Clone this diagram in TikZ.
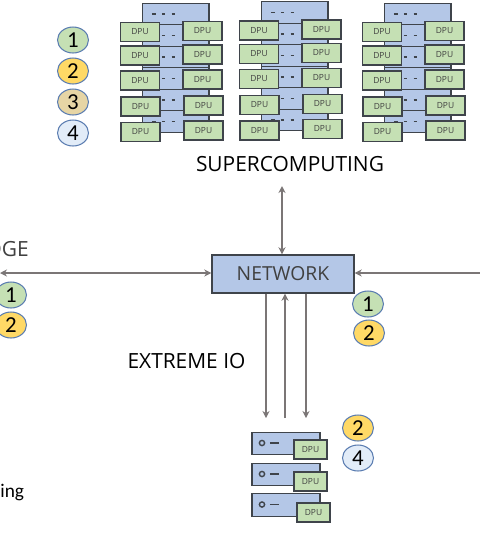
\documentclass[tikz,border=0pt]{standalone}
\usepackage{fontspec}
\setmainfont{Open Sans}
\newfontfamily\digitfont{Carlito}
\usepackage{tikz}
\usetikzlibrary{
	arrows.meta,
	positioning,
	calc,
	shapes.geometric
}
\usepackage{xcolor}
\definecolor{rackblue}{HTML}{B4C7E7}
\definecolor{dpugreen}{HTML}{C5E0B4}
\definecolor{edgedark}{HTML}{3F444B}
\definecolor{linkgrey}{HTML}{7B7676}
\definecolor{badgeline}{HTML}{5B7DB1}
\definecolor{badgeyellow}{HTML}{FFD966}
\definecolor{badgetan}{HTML}{E6D5A5}
\definecolor{badgepale}{HTML}{E2ECF8}
\definecolor{labelgrey}{HTML}{404040}
\tikzset{
	shelfbox/.style={draw=edgedark,fill=rackblue,line width=0.8pt,minimum width=1.34cm,minimum height=0.43cm,inner sep=0pt},
	dpubox/.style={draw=edgedark,fill=dpugreen,line width=0.8pt,minimum width=0.78cm,minimum height=0.385cm,inner sep=0pt,font=\fontsize{4.8}{6}\selectfont,text=labelgrey},
	serverbox/.style={draw=edgedark,fill=rackblue,line width=0.8pt,minimum width=1.36cm,minimum height=0.45cm,inner sep=0pt},
	smalldpu/.style={dpubox,minimum width=0.66cm,minimum height=0.38cm},
	badge/.style={draw=badgeline,ellipse,line width=0.6pt,minimum width=0.62cm,minimum height=0.52cm,inner sep=0pt,font=\digitfont\fontsize{13}{14}\selectfont},
	netlink/.style={draw=linkgrey,line width=1pt},
	biglabel/.style={font=\fontsize{11.9}{13}\selectfont,inner sep=0pt}
}
\begin{document}
\begin{tikzpicture}[>={Stealth[length=4pt,width=4pt]},x=0.02cm,y=-0.02cm]
		\useasboundingbox (0,0) rectangle (480,556);
		\clip (0,0) rectangle (480,556);
		
		% Racks with their DPUs
		\foreach \cx/\cy/\cn in {0/0/a,119/-1.5/b,242/0/c}{
			\foreach \i in {1,...,6}{
				\node[shelfbox] (rack\cn\i) at (\cx+175.7,\cy+14+21.5*\i-21.5) {};
				\draw[edgedark,line width=0.7pt,dash pattern=on 2pt off 3.6pt] (\cx+152,\cy+14+21.5*\i-21.5)--(\cx+175,\cy+14+21.5*\i-21.5);
			}
			\foreach \dx/\dy/\dn in {140/32/1,140/55.5/2,140/80.5/3,140.5/106.5/4,140.5/132/5,202.5/31/6,202.5/54.5/7,202.5/79.5/8,203.5/105.5/9,203.5/130.5/10}
			\node[dpubox] (dpu\cn\dn) at (\cx+\dx,\cy+\dy) {DPU};
		}
		
		% Legend
		\node[badge,fill=dpugreen] (legendA) at (73,40) {1};
		\node[badge,fill=badgeyellow] (legendB) at (73,71) {2};
		\node[badge,fill=badgetan] (legendC) at (73,102) {3};
		\node[badge,fill=badgepale] (legendD) at (73,133) {4};
		
		\node[biglabel] (super) at (290,164) {SUPERCOMPUTING};
		
		% Network and links
		\node[draw=edgedark,fill=rackblue,line width=0.8pt,minimum width=2.84cm,minimum height=0.76cm,inner sep=0pt,font=\fontsize{11}{13}\selectfont,text=labelgrey] (network) at (283,274) {NETWORK};
		
		\coordinate (supertop) at (282,186);
		\coordinate (edgeend) at (0,273);
		\coordinate (farend) at (484,273);
		\coordinate (ioA) at (266,418);
		\coordinate (ioB) at (285,418);
		\coordinate (ioC) at (306,418);
		
		\draw[netlink,<->] (network.north -| supertop)--(supertop);
		\draw[netlink,<->] (network.west |- edgeend)--(edgeend);
		\draw[netlink,->] (farend)--(network.east |- farend);
		\draw[netlink,->] (network.south -| ioA)--(ioA);
		\draw[netlink,->] (ioB)--(network.south -| ioB);
		\draw[netlink,->] (network.south -| ioC)--(ioC);
		
		% Edge side
		\node[biglabel,text=labelgrey,anchor=east] (edge) at (29,249) {EDGE};
		\node[badge,fill=dpugreen] (edgeA) at (11,295) {1};
		\node[badge,fill=badgeyellow] (edgeB) at (11,325) {2};
		\node[font=\digitfont\fontsize{11}{13}\selectfont,anchor=west,inner sep=0pt] (tail) at (0,493) {ing};
		
		% Right side
		\node[badge,fill=dpugreen] (rightA) at (368,304) {1};
		\node[badge,fill=badgeyellow] (rightB) at (369,333) {2};
		
		% Extreme IO
		\node[biglabel] (extreme) at (186.5,361) {EXTREME IO};
		\foreach \sy/\dx/\dy/\sn in {443.5/310.5/449.5/1,474.5/310.5/481.5/2,505/313.5/512.5/3}{
			\node[serverbox] (server\sn) at (286,\sy) {};
			\draw[edgedark,line width=0.8pt] (262,\sy-0.5) circle (2.6);
			\draw[edgedark,line width=0.8pt] (270,\sy-0.5)--(279,\sy-0.5);
			\node[smalldpu] (sdpu\sn) at (\dx,\dy) {DPU};
		}
		\node[badge,fill=badgeyellow] (ioBadgeA) at (358,428) {2};
		\node[badge,fill=badgepale] (ioBadgeB) at (358,458) {4};
		
	\end{tikzpicture}
\end{document}
